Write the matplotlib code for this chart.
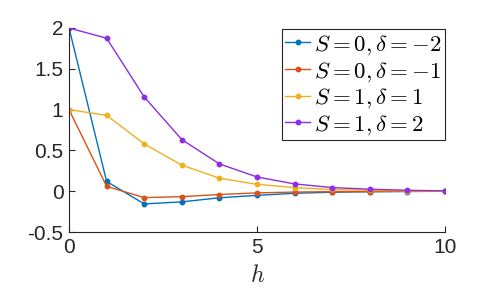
import matplotlib
matplotlib.use("Agg")
import matplotlib.pyplot as plt
import numpy as np

h = np.arange(0, 11)
s0_dm2 = [2.0, 0.12, -0.155, -0.13, -0.08, -0.05, -0.025, -0.012, -0.006, -0.003, 0.0]
s0_dm1 = [1.0, 0.06, -0.078, -0.066, -0.04, -0.02, -0.01, -0.005, -0.003, -0.001, 0.0]
s1_d1 = [1.0, 0.93, 0.58, 0.32, 0.16, 0.085, 0.045, 0.022, 0.011, 0.005, 0.002]
s1_d2 = [2.0, 1.875, 1.155, 0.633, 0.335, 0.175, 0.09, 0.045, 0.025, 0.012, 0.005]

series = [
    (s0_dm2, "#0072BD", r"$S=0,\delta=-2$"),
    (s0_dm1, "#D95319", r"$S=0,\delta=-1$"),
    (s1_d1, "#EDB120", r"$S=1,\delta=1$"),
    (s1_d2, "#8E2DE2", r"$S=1,\delta=2$"),
]

plt.rcParams["font.family"] = ["Liberation Sans", "DejaVu Sans"]
plt.rcParams["mathtext.fontset"] = "cm"

fig = plt.figure(figsize=(4.98, 3.01), dpi=100)
ax = fig.add_axes([0.1386, 0.229, 0.755, 0.678])
for y, c, lab in series:
    ax.plot(h, y, color=c, linewidth=1.0, marker="o", markersize=3.2, label=lab)

ax.set_xlim(0, 10)
ax.set_ylim(-0.5, 2)
ax.set_xticks([0, 5, 10])
ax.set_yticks([-0.5, 0, 0.5, 1, 1.5, 2])
ax.set_yticklabels(["-0.5", "0", "0.5", "1", "1.5", "2"])
ax.tick_params(direction="in", labelsize=15, length=4, colors="#262626", pad=4)
for sp in ["top", "right"]:
    ax.spines[sp].set_visible(False)
for sp in ["left", "bottom"]:
    ax.spines[sp].set_color("#262626")
    ax.spines[sp].set_linewidth(0.8)
ax.set_xlabel(r"$h$", fontsize=17, labelpad=6, color="#262626")

leg = ax.legend(loc="upper right", bbox_to_anchor=(1.0, 0.995), fontsize=16.5,
                handlelength=1.1, handletextpad=0.15, labelspacing=0.1,
                borderpad=0.15, borderaxespad=0.0, fancybox=False, framealpha=1)
leg.get_frame().set_edgecolor("#262626")
leg.get_frame().set_linewidth(0.8)

fig.savefig("out.png", dpi=100)
